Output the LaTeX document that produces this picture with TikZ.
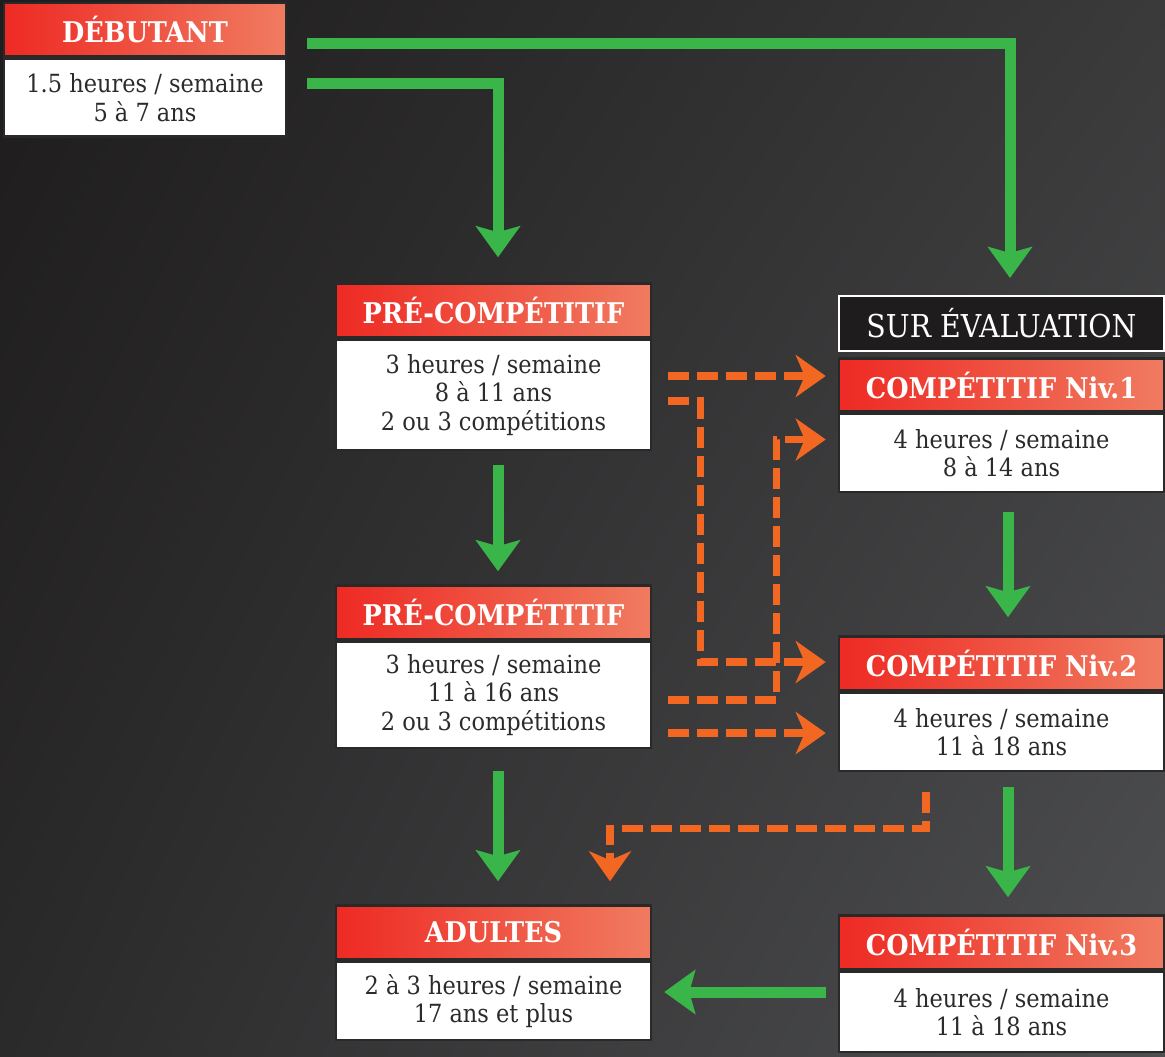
\documentclass[tikz,border=0pt]{standalone}
\usepackage{fontspec}
\setmainfont{DejaVu Serif Condensed}
\usetikzlibrary{positioning}
\usetikzlibrary{arrows.meta}
\usetikzlibrary{shadings}

\definecolor{bgtl}{HTML}{1E1C1D}
\definecolor{bgtr}{HTML}{3A3A3B}
\definecolor{bgbl}{HTML}{2B2A2B}
\definecolor{bgbr}{HTML}{4E4F51}
\definecolor{boxedge}{HTML}{2A292A}
\definecolor{hdrleft}{HTML}{EE2A24}
\definecolor{hdrright}{HTML}{F07B60}
\definecolor{bodytext}{HTML}{2B2B2B}
\definecolor{gogreen}{HTML}{3AB54A}
\definecolor{maybeorange}{HTML}{F26722}

\tikzset{
  hdr/.style={draw=boxedge, line width=2.5pt, left color=hdrleft, right color=hdrright,
    text=white, font=\fontsize{28.5}{30}\selectfont\bfseries, minimum height=53pt, inner sep=0pt},
  body/.style={draw=boxedge, line width=2.5pt, fill=white, text=bodytext, align=center,
    font=\fontsize{25}{28.5}\selectfont, inner sep=0pt},
  evalbox/.style={draw=white, line width=2pt, fill=bgtl, text=white,
    font=\fontsize{31.5}{33}\selectfont, minimum width=325pt, minimum height=55pt},
  go/.style={draw=gogreen, line width=11pt, -{Stealth[length=31pt,width=44pt,inset=6pt]}},
  maybe/.style={draw=maybeorange, line width=7.5pt, dash pattern=on 21pt off 8pt,
    -{Stealth[length=30pt,width=42pt,inset=9pt]}},
}

\begin{document}
\begin{tikzpicture}[x=1pt, y=-1pt]

  % Background
  \useasboundingbox (0,0) rectangle (1165,1057);
  \shade[upper left=bgtl, upper right=bgtr, lower left=bgbl, lower right=bgbr]
    (0,1057) rectangle (1165,0);

  % Define nodes
  \node[hdr, minimum width=282pt]                        (deb)    at (145,29.5) {DÉBUTANT};
  \node[body, below=0pt of deb, minimum width=282pt, minimum height=78pt] (debtxt)
    {1.5 heures / semaine\\5 à 7 ans};

  \node[hdr, minimum width=315pt, minimum height=54pt]  (pre1)   at (493.5,310.5) {PRÉ-COMPÉTITIF};
  \node[body, below=0pt of pre1, minimum width=315pt, minimum height=110pt] (pre1txt)
    {3 heures / semaine\\8 à 11 ans\\2 ou 3 compétitions};

  \node[hdr, minimum width=315pt, minimum height=54pt]  (pre2)   at (493.5,612.5) {PRÉ-COMPÉTITIF};
  \node[body, below=0pt of pre2, minimum width=315pt, minimum height=106pt] (pre2txt)
    {3 heures / semaine\\11 à 16 ans\\2 ou 3 compétitions};

  \node[hdr, minimum width=315pt, minimum height=54pt]  (adu)    at (493.5,932.5) {ADULTES};
  \node[body, below=0pt of adu, minimum width=315pt, minimum height=78pt] (adutxt)
    {2 à 3 heures / semaine\\17 ans et plus};

  \node[evalbox]                                        (sur)    at (1001.5,323.5) {SUR ÉVALUATION};

  \node[hdr, minimum width=325pt]                       (niv1)   at (1001.5,385) {COMPÉTITIF Niv.1};
  \node[body, below=0pt of niv1, minimum width=325pt, minimum height=78pt] (niv1txt)
    {4 heures / semaine\\8 à 14 ans};

  \node[hdr, minimum width=325pt, minimum height=54pt]  (niv2)   at (1001.5,663.5) {COMPÉTITIF Niv.2};
  \node[body, below=0pt of niv2, minimum width=325pt, minimum height=78pt] (niv2txt)
    {4 heures / semaine\\11 à 18 ans};

  \node[hdr, minimum width=325pt, minimum height=54pt]  (niv3)   at (1001.5,942.5) {COMPÉTITIF Niv.3};
  \node[body, below=0pt of niv3, minimum width=325pt, minimum height=80pt] (niv3txt)
    {4 heures / semaine\\11 à 18 ans};

  % Free ends of the connectors
  \coordinate (p1a) at ([xshift=16pt,yshift=19pt]pre1txt.east);
  \coordinate (p2b) at ([xshift=16pt,yshift=-38pt]pre2txt.east);
  \coordinate (n3w) at ([xshift=-12pt,yshift=20pt]niv3txt.west);

  % Connect the nodes
  \draw[go] ([xshift=20pt,yshift=-14.5pt]deb.east) -| ([xshift=8.5pt,yshift=17pt]sur.north);
  \draw[go] ([xshift=20pt,yshift=13.5pt]debtxt.east) -| ([xshift=4.5pt,yshift=25pt]pre1.north);
  \draw[go] ([xshift=4.5pt,yshift=-14pt]pre1txt.south) -- ([xshift=4.5pt,yshift=13pt]pre2.north);
  \draw[go] ([xshift=4.5pt,yshift=-22pt]pre2txt.south) -- ([xshift=4.5pt,yshift=23pt]adu.north);
  \draw[go] ([xshift=6.5pt,yshift=-19pt]niv1txt.south) -- ([xshift=6.5pt,yshift=18pt]niv2.north);
  \draw[go] ([xshift=6.5pt,yshift=-15pt]niv2txt.south) -- ([xshift=6.5pt,yshift=17pt]niv3.north);
  \draw[go] (n3w) -- ([xshift=12pt]n3w -| adutxt.east);

  \draw[maybe] (p1a) -- ([xshift=-12pt]p1a -| niv1.west);
  \draw[maybe] ([xshift=16pt,yshift=-6pt]pre1txt.east) -- ++(32,0)
    |- ([xshift=-12pt,yshift=1.5pt]niv2.west);
  \draw[maybe] ([xshift=16pt,yshift=-5pt]pre2txt.east) -- ++(108,0)
    |- ([xshift=-12pt,yshift=13.5pt]niv1txt.west);
  \draw[maybe] (p2b) -- ([xshift=-12pt]p2b -| niv2txt.west);
  \draw[maybe] ([xshift=-75.5pt,yshift=-20pt]niv2txt.south) -- ++(0,36)
    -| ([xshift=116.5pt,yshift=23pt]adu.north);

\end{tikzpicture}
\end{document}
